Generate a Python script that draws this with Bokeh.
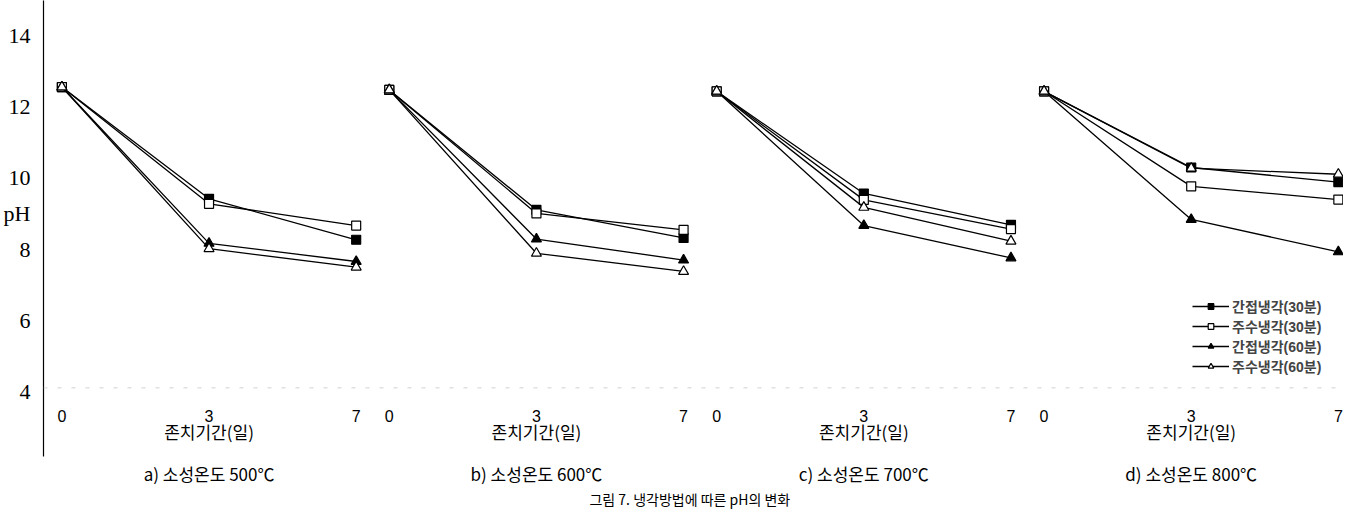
from bokeh.plotting import figure
from bokeh.models import (ColumnDataSource, Legend, LegendItem, FixedTicker,
                          Range1d, Span)
from bokeh.core.properties import value
from bokeh.embed import file_html
from bokeh.resources import INLINE

# ---------------- data ----------------
days = ["0", "3", "7"]
panel_titles = ["a) 소성온도 500℃", "b) 소성온도 600℃",
                "c) 소성온도 700℃", "d) 소성온도 800℃"]
series_names = ["간접냉각(30분)", "주수냉각(30분)", "간접냉각(60분)", "주수냉각(60분)"]

# pH per panel (500, 600, 700, 800 ℃) at day 0, 3, 7
indirect_30 = [[12.55, 9.41, 8.26], [12.47, 9.10, 8.31],
               [12.43, 9.56, 8.68], [12.43, 10.29, 9.88]]
water_30 = [[12.55, 9.27, 8.66], [12.47, 9.00, 8.54],
            [12.43, 9.38, 8.56], [12.43, 9.76, 9.39]]
indirect_60 = [[12.55, 8.16, 7.65], [12.47, 8.28, 7.69],
               [12.43, 8.66, 7.75], [12.43, 8.83, 7.92]]
water_60 = [[12.55, 8.01, 7.49], [12.47, 7.88, 7.37],
            [12.43, 9.17, 8.22], [12.43, 10.27, 10.10]]

y_ticks = [4, 6, 8, 10, 12, 14]
y_title = "pH"
x_title = "존치기간(일)"
fig_title = "그림 7. 냉각방법에 따른 pH의 변화"

# ---------------- layout ----------------
PANEL_STEP = 2.225         # distance between panels in day-index units
PH_LABEL_POS = 9           # where the "pH" label sits on the axis
Y_TICKLABEL = 3.30
Y_XTITLE = 2.88
Y_CAPTION = 1.70
Y_FIGTITLE = 0.965
Y_TOP = 14.981


def px(panel, j):
    return panel * PANEL_STEP + j


p = figure(width=1343, height=510, output_backend="svg", toolbar_location=None,
           x_range=Range1d(-0.125, 8.71), y_range=Range1d(0.655, Y_TOP),
           x_axis_location=None, min_border_left=40, min_border_right=0,
           min_border_top=0, min_border_bottom=0)
p.outline_line_color = None
p.grid.visible = False
p.background_fill_color = "white"

ax = p.yaxis[0]
ax.ticker = FixedTicker(ticks=y_ticks + [PH_LABEL_POS])
ax.major_label_overrides = {PH_LABEL_POS: y_title}
ax.bounds = (2.17, Y_TOP)
ax.major_tick_line_color = None
ax.minor_tick_line_color = None
ax.axis_line_color = "black"
ax.axis_line_width = 1.2
ax.major_label_text_font = "Liberation Serif"
ax.major_label_text_font_size = "22px"
ax.major_label_text_color = "black"
ax.major_label_standoff = 7

# faint remnant of the base line
p.add_layout(Span(location=4.1, dimension="width", line_color="#d2d2d2",
                  line_width=1, line_dash="4 10"))

styles = [
    dict(marker="square", fill_color="black", size=9),
    dict(marker="square", fill_color="white", size=9),
    dict(marker="triangle", fill_color="black", size=10),
    dict(marker="triangle", fill_color="white", size=10),
]
all_series = [indirect_30, water_30, indirect_60, water_60]

items = []
for name, data, st in zip(series_names, all_series, styles):
    first = None
    xs_all, ys_all = [], []
    for i, vals in enumerate(data):
        xs = [px(i, j) for j in range(len(days))]
        lr = p.line(xs, vals, line_color="black", line_width=1.3)
        if first is None:
            first = lr
        xs_all += xs
        ys_all += vals
    sr = p.scatter(xs_all, ys_all, marker=st["marker"], size=st["size"],
                   fill_color=st["fill_color"], line_color="black", line_width=1.2)
    items.append(LegendItem(label=name, renderers=[first, sr]))

# x tick labels, x titles and captions for each panel
tick_src = ColumnDataSource(dict(
    x=[px(i, j) for i in range(4) for j in range(3)],
    y=[Y_TICKLABEL] * 12,
    t=[days[j] for i in range(4) for j in range(3)]))
p.text("x", "y", text="t", source=tick_src, text_font=value("Liberation Sans"),
       text_font_size="16px", text_align="center", text_baseline="middle",
       text_color="black")

xt_src = ColumnDataSource(dict(x=[px(i, 1) for i in range(4)],
                               y=[Y_XTITLE] * 4, t=[x_title] * 4))
p.text("x", "y", text="t", source=xt_src, text_font=value("Noto Sans CJK KR"),
       text_font_size="17px", text_align="center", text_baseline="middle",
       text_color="black")

cap_src = ColumnDataSource(dict(x=[px(i, 1) for i in range(4)],
                                y=[Y_CAPTION] * 4, t=panel_titles))
p.text("x", "y", text="t", source=cap_src, text_font=value("Noto Sans CJK KR"),
       text_font_size="17px", text_align="center", text_baseline="middle",
       text_color="black")

ft_src = ColumnDataSource(dict(x=[(px(1, 2) + px(2, 0)) / 2 - 0.07],
                               y=[Y_FIGTITLE], t=[fig_title]))
p.text("x", "y", text="t", source=ft_src, text_font=value("Noto Sans CJK KR"),
       text_font_size="14px", text_align="center", text_baseline="middle",
       text_color="black")

legend = Legend(items=items, location=(1149, 134), padding=0, margin=0,
                border_line_color=None, background_fill_alpha=0,
                glyph_width=37, glyph_height=14, label_height=14, spacing=0,
                label_standoff=3,
                label_text_font="Liberation Sans, Noto Sans CJK KR",
                label_text_font_size="14px", label_text_font_style="bold")
p.add_layout(legend)

open("out.html", "w").write(file_html(p, INLINE))
